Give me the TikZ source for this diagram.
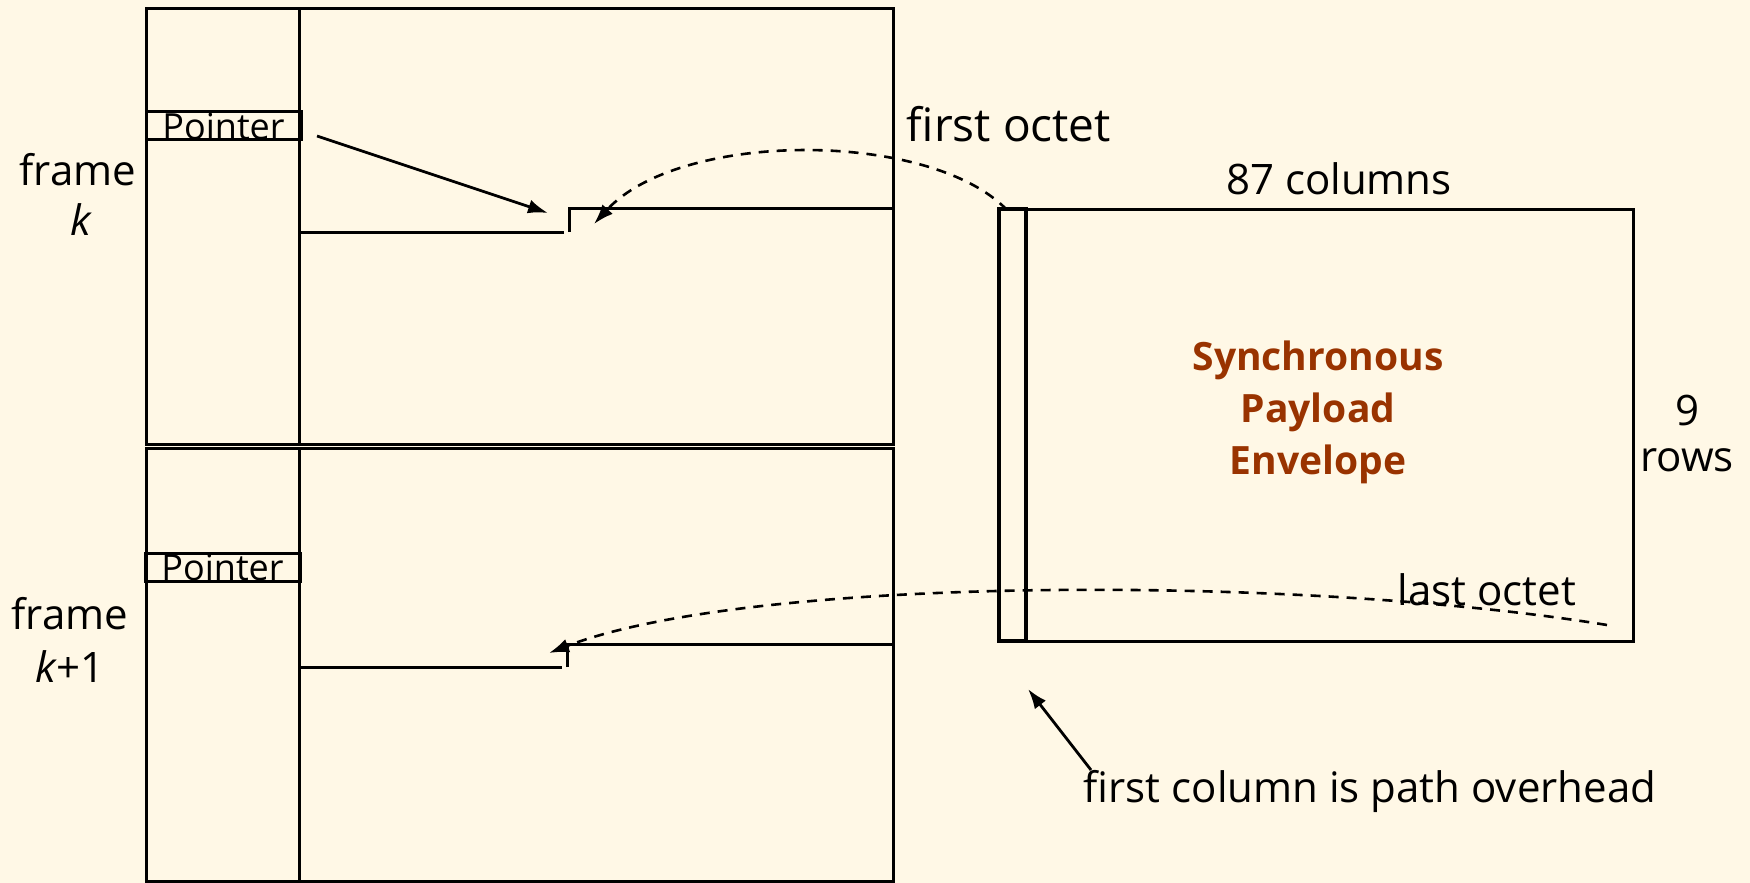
\documentclass[tikz,border=0pt]{standalone}
\usepackage{fontspec}
\setmainfont{Open Sans}
\usetikzlibrary{arrows.meta}
\definecolor{bg}{HTML}{FFF8E6}
\definecolor{spe}{HTML}{993300}
\begin{document}
\begin{tikzpicture}[x=0.5pt,y=-0.5pt,line width=1.5pt,
  arr/.style={line width=1.4pt,-{Latex[length=10pt,width=7pt]}},
  dsh/.style={line width=1.3pt,dash pattern=on 5pt off 4pt,-{Latex[length=10pt,width=7pt]}},
  lbl/.style={inner sep=0pt,font=\fontsize{21}{24}\selectfont},
  ptrbox/.style={draw,minimum width=77.5pt,minimum height=14pt,inner sep=0pt,font=\fontsize{18}{18}\selectfont},
  spetxt/.style={inner sep=0pt,align=center,text=spe,font=\bfseries\fontsize{19.5}{26}\selectfont}]
\fill[bg] (0,0) rectangle (1750,883);
\useasboundingbox (0,0) rectangle (1750,883);
% frame k
\draw (146,9) rectangle (893,444);
\draw (299,9) -- (299,444);
\node[ptrbox] (ptr1) at (223.5,126) {Pointer};
\draw (301,232) -- (564,232);
\draw (569,232) -- (569,208) -- (893,208);
% frame k+1
\draw (146,448) rectangle (893,881);
\draw (299,448) -- (299,881);
\node[ptrbox] (ptr2) at (222.5,567) {Pointer};
\draw (301,667) -- (562,667);
\draw (567,667) -- (567,644) -- (893,644);
% labels
\node[lbl] (fk) at (78,170) {frame};
\node[lbl] (k) at (81,220) {\itshape k};
\node[lbl] (fk1) at (70,614) {frame};
\node[lbl] (k1) at (70,667) {\itshape k\upshape+1};
% SPE
\draw (999,209) rectangle (1633,641);
\draw[line width=2pt] (999,209) rectangle (1026,641);
\node[lbl] (cols) at (1339,179) {87 columns};
\node[lbl] (r9) at (1687,410) {9};
\node[lbl] (rows) at (1687,460) {rows};
\node[spetxt] (spe) at (1318,412) {Synchronous\\Payload\\Envelope};
\node[lbl,font=\fontsize{23}{26}\selectfont] (fo) at (1009,124) {first octet};
\node[lbl] (lo) at (1487,590) {last octet};
\node[lbl] (fc) at (1370,791) {first column is path overhead};
% arrows
\coordinate (pa) at (317,136);
\coordinate (pb) at (548,213);
\draw[arr] (pa) -- (pb);
\coordinate (c1s) at (1007,210);
\coordinate (c1e) at (594,224);
\draw[dsh] (c1s) .. controls (930,130) and (680,130) .. (c1e);
\coordinate (c2s) at (1607,625);
\coordinate (c2e) at (549,653);
\draw[dsh] (c2s) .. controls (1300,575) and (750,575) .. (c2e);
\coordinate (fa) at (1091,770);
\coordinate (fb) at (1028,689);
\draw[arr] (fa) -- (fb);
\end{tikzpicture}
\end{document}
